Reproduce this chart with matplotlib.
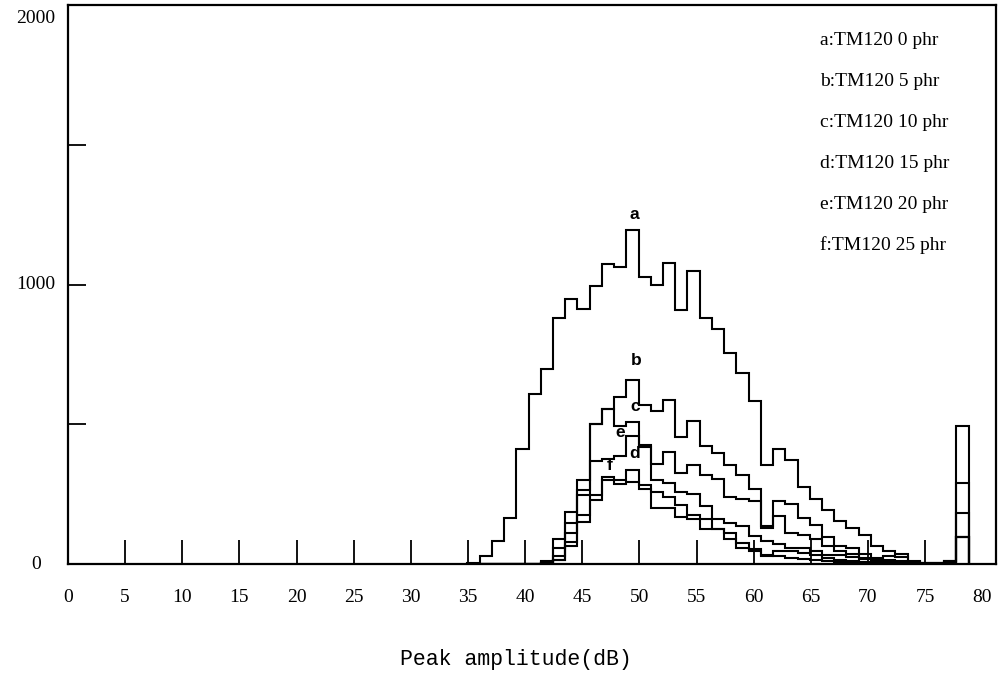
import numpy as np
import matplotlib
matplotlib.use('Agg')
import matplotlib.pyplot as plt

# peak amplitude histograms, counts per bin
bin_start = 34.95   # dB, left edge of the first bin
bin_width = 1.07    # dB, as drawn in the figure

a = [5, 30, 82, 165, 410, 610, 697, 880, 949, 913, 995, 1073, 1063, 1194, 1028, 1000, 1078,
     910, 1050, 880, 840, 755, 683, 585, 355, 413, 372, 274, 232, 194, 154, 128, 103, 63, 46,
     36, 10, 2, 3, 10, 495]
b = [0, 0, 0, 0, 0, 0, 12, 88, 187, 299, 501, 554, 596, 657, 568, 548, 586, 454, 512, 424, 398,
     355, 318, 268, 136, 225, 213, 164, 140, 95, 65, 59, 35, 23, 30, 25, 8, 3, 3, 10, 290]
c = [0, 0, 0, 0, 0, 0, 8, 56, 145, 264, 501, 554, 495, 507, 426, 358, 400, 326, 355, 320, 303,
     240, 233, 225, 130, 172, 110, 104, 89, 63, 47, 35, 23, 17, 14, 10, 3, 2, 2, 8, 183]
d = [0, 0, 0, 0, 0, 0, 4, 15, 80, 175, 246, 300, 300, 337, 281, 257, 240, 210, 174, 160, 124,
     89, 59, 47, 32, 30, 20, 18, 14, 10, 8, 6, 4, 3, 3, 2, 1, 1, 1, 3, 96]
e = [0, 0, 0, 0, 0, 0, 4, 30, 110, 246, 370, 376, 388, 459, 420, 300, 290, 257, 249, 207, 162,
     148, 136, 100, 83, 71, 59, 59, 47, 32, 32, 25, 18, 12, 10, 6, 2, 1, 1, 5, 96]
f = [0, 0, 0, 0, 0, 0, 2, 15, 65, 150, 230, 311, 287, 293, 270, 200, 200, 170, 160, 125, 125,
     112, 77, 53, 29, 47, 47, 40, 32, 20, 15, 10, 8, 6, 4, 3, 1, 1, 1, 3, 96]

series = [a, b, c, d, e, f]
names = ['a', 'b', 'c', 'd', 'e', 'f']
legend_lines = ['a:TM120 0 phr', 'b:TM120 5 phr', 'c:TM120 10 phr',
                'd:TM120 15 phr', 'e:TM120 20 phr', 'f:TM120 25 phr']
# where the curve letters sit (dB, count)
letter_pos = {'a': (49.6, 1225), 'b': (49.7, 700), 'c': (49.6, 535),
              'd': (49.6, 370), 'e': (48.3, 445), 'f': (47.4, 325)}

x_ticks = list(range(0, 85, 5))
y_labels = [0, 1000, 2000]

edges = bin_start + bin_width * np.arange(len(a) + 1)

fig = plt.figure(figsize=(10.07, 6.87), dpi=100)
ax = fig.add_axes([0.0675, 0.179, 0.9215, 0.8137])

for vals in series:
    ax.stairs(vals, edges, color='black', linewidth=1.5, baseline=0)

for n in names:
    ax.text(*letter_pos[n], n, ha='center', va='bottom', fontsize=12.5,
            fontweight='bold', family='Liberation Sans')

for i, t in enumerate(legend_lines):
    ax.text(0.810, 0.937 - i * 0.0733, t, transform=ax.transAxes, ha='left', va='center',
            fontsize=14, family='Liberation Serif')

ax.set_xlim(0, 81.2)
ax.set_ylim(0, 2000)

ax.set_xticks(x_ticks[1:-1])
ax.set_xticklabels([])
ax.tick_params(axis='x', direction='in', length=17, width=1.3)
ax.set_yticks([500, 1000, 1500])
ax.set_yticklabels([])
ax.tick_params(axis='y', direction='in', length=13, width=1.3)

for v in x_ticks:
    ax.text(v, -118, str(v), ha='center', va='center', fontsize=14, family='Liberation Serif')
for v in y_labels:
    yy = v if v < 2000 else 1950
    ax.text(-2.8, yy, str(v), ha='center', va='center', fontsize=14,
            family='Liberation Serif')

for s in ax.spines.values():
    s.set_linewidth(1.6)

fig.text(0.512, 0.04, 'Peak amplitude(dB)', ha='center', va='center', fontsize=15.5,
         family='Liberation Mono')

fig.savefig('out.png', dpi=100)
